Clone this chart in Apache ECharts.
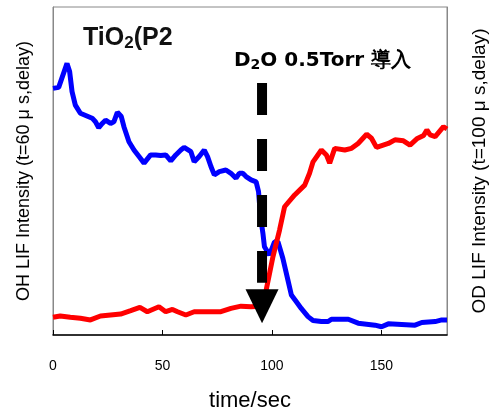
<!DOCTYPE html>
<html>
<head>
<meta charset="utf-8">
<script src="https://cdn.jsdelivr.net/npm/echarts@6/dist/echarts.min.js"></script>
<style>html,body{margin:0;padding:0;background:#fff;}#c{width:493px;height:414px;}</style>
</head>
<body>
<div id="c"></div>
<script>
// time (sec) and intensities (arbitrary units, 0-100)
const ohTime = [0,2.6,4.1,6.4,7.6,8.7,10.2,12.5,17.9,19.4,20.9,22.5,24.0,26.3,27.8,29.4,31.2,32.4,34.7,37.0,39.3,41.6,44.6,46.9,49.2,51.5,53.8,56.1,58.4,59.9,63.0,64.5,66.8,69.1,70.6,72.2,73.7,76.0,79.0,81.3,83.6,85.1,86.7,88.2,90.5,92.8,93.9,94.8,95.9,96.6,98.9,101.2,102.8,105.0,107.3,108.9,111.1,113.4,116.5,118.8,122.6,125.7,127.2,134.9,139.4,147.1,150.1,153.2,165.4,168.5,174.6,177.6,180];
const ohValue = [75.2,75.5,78.4,82.8,80.3,74.2,70.1,67.6,66.1,65.0,63.2,64.5,65.5,64.5,65.0,67.9,66.6,63.5,58.9,56.4,54.4,52.4,54.9,54.9,54.7,54.9,53.1,54.9,56.4,57.2,55.9,52.8,54.4,56.4,54.4,51.3,48.8,49.8,50.3,49.3,47.8,49.3,49.3,48.3,47.3,46.7,43.7,36.1,31.0,26.9,24.4,28.4,28.4,23.4,16.8,12.2,10.2,8.1,5.6,4.4,4.1,4.1,4.8,4.8,3.6,3.0,2.5,3.4,3.0,3.8,4.1,4.6,4.6];
const odTime = [0,3.3,7.9,12.5,17.1,21.7,30.9,35.5,39.7,43.1,48.4,51.5,54.6,56.9,60.7,64.5,70.6,76.7,81.3,85.9,90.5,94.2,96.0,97.4,100.5,103.5,105.8,106.6,110.4,115.0,117.2,118.8,122.6,124.9,126.4,128.7,133.3,136.4,139.4,143.3,145.5,147.8,153.2,156.2,160.1,163.1,166.2,169.3,170.8,172.3,174.6,178.4,180];
const odValue = [5.4,5.8,5.4,5.1,4.6,5.8,6.4,7.4,8.4,7.1,8.6,7.1,7.8,7.1,6.1,7.1,7.1,7.1,8.1,8.8,8.6,8.8,10.1,13.7,23.9,32.0,39.1,39.6,42.7,45.7,49.3,52.8,56.4,54.9,52.4,56.9,56.4,56.9,58.4,61.2,60.0,57.2,58.4,59.5,59.2,57.9,59.8,60.8,62.5,61.0,60.5,63.5,62.8];
// D2O injection marker
const arrowTime = [95.5, 95.5];
const arrowValue = [76.8, 15.9];
const arrowHead = [95.5, 8.8];
const xTicks = [0, 50, 100, 150];

const font = '"Liberation Sans", Arial, sans-serif';
const wide = '"DejaVu Sans", sans-serif';
const zip = (a, b) => a.map((v, i) => [v, b[i]]);

const chart = echarts.init(document.getElementById('c'));
chart.setOption({
  animation: false,
  backgroundColor: '#fff',
  title: [
    { text: 'TiO{s|2}(P2', left: 83, top: 25, padding: 0,
      textStyle: { fontFamily: font, fontSize: 25, fontWeight: 'bold', color: '#111',
        rich: { s: { fontFamily: font, fontSize: 17, fontWeight: 'bold', color: '#111', padding: [10,0,0,0] } } } },
    { text: 'D{s|2}O 0.5Torr 導入', left: 234, top: 50, padding: 0,
      textStyle: { fontFamily: wide, fontSize: 20, fontWeight: 'bold', color: '#000',
        rich: { s: { fontFamily: wide, fontSize: 14, fontWeight: 'bold', color: '#000', padding: [8,0,0,0] } } } }
  ],
  grid: { left: 53, right: 46, top: 7, bottom: 79, show: true, borderColor: '#888', borderWidth: 1,
    containLabel: false, outerBoundsMode: 'none' },
  xAxis: {
    type: 'value', min: 0, max: 180, interval: 50,
    name: 'time/sec', nameLocation: 'middle', nameGap: 55,
    nameTextStyle: { fontFamily: font, fontSize: 22, color: '#000' },
    axisLine: { lineStyle: { color: '#000', width: 1.5 } },
    axisTick: { inside: true, length: 5, lineStyle: { color: '#000' } },
    axisLabel: { fontFamily: font, fontSize: 14, color: '#000', margin: 24, showMaxLabel: false,
      formatter: v => xTicks.includes(v) ? String(v) : '' },
    splitLine: { show: false }
  },
  yAxis: [
    { type: 'value', min: 0, max: 100, position: 'left',
      name: 'OH LIF Intensity (t=60 μ s,delay)', nameLocation: 'middle', nameGap: 20,
      nameTextStyle: { fontFamily: font, fontSize: 18, color: '#000' },
      axisLine: { show: true, lineStyle: { color: '#888' } },
      axisTick: { show: false }, axisLabel: { show: false }, splitLine: { show: false } },
    { type: 'value', min: 0, max: 100, position: 'right',
      name: 'OD LIF Intensity (t=100 μ s,delay)', nameLocation: 'middle', nameGap: 23, nameRotate: 90,
      nameTextStyle: { fontFamily: font, fontSize: 19, color: '#000' },
      axisLine: { show: true, lineStyle: { color: '#888' } },
      axisTick: { show: false }, axisLabel: { show: false }, splitLine: { show: false } }
  ],
  series: [
    { type: 'line', data: zip(ohTime, ohValue), symbol: 'none', z: 2,
      lineStyle: { color: '#0000ff', width: 5 } },
    { type: 'line', data: zip(odTime, odValue), symbol: 'none', z: 3,
      lineStyle: { color: '#ff0000', width: 5 } },
    { type: 'line', data: zip(arrowTime, arrowValue), symbol: 'none', z: 4, silent: true,
      lineStyle: { color: '#000', width: 10, type: [32, 24], cap: 'butt' } },
    { type: 'scatter', data: [arrowHead], symbol: 'triangle', symbolSize: [33, 34], symbolRotate: 180,
      z: 5, silent: true, itemStyle: { color: '#000', opacity: 1 } }
  ]
});
</script>
</body>
</html>
